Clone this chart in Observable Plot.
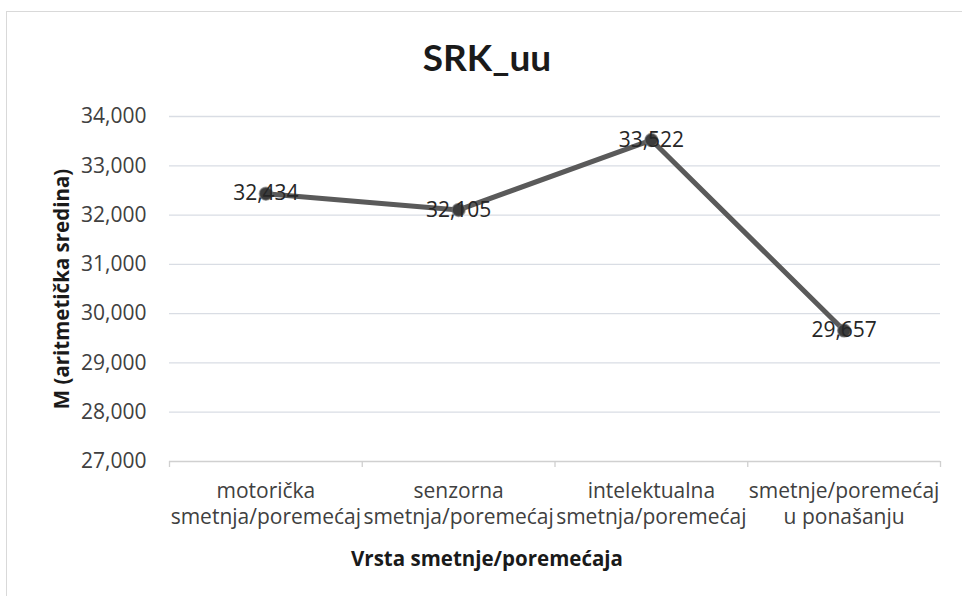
<!DOCTYPE html>
<html>
<head>
<meta charset="utf-8">
<script src="https://cdn.jsdelivr.net/npm/d3@7"></script>
<script src="https://cdn.jsdelivr.net/npm/@observablehq/plot@0.6"></script>
<style>
  html, body { margin: 0; padding: 0; background: #fff; }
  #wrap { position: relative; width: 962px; height: 596px; overflow: hidden; font-family: "Open Sans", Lato, sans-serif; }
  #frame { position: absolute; left: 6px; top: 11px; right: -10px; bottom: -10px; border: 1.5px solid #d9d9d9; }
  #title { position: absolute; left: 0; width: 974px; top: 34px; text-align: center; font-family: Lato, sans-serif; font-size: 37px; font-weight: bold; color: #1a1a1a; }
  #chart { position: absolute; left: 0; top: 100px; }
</style>
</head>
<body>
<div id="wrap">
  <div id="frame"></div>
  <div id="title">SRK_uu</div>
  <div id="chart"></div>
</div>
<script>
const categories = ["motorička\nsmetnja/poremećaj", "senzorna\nsmetnja/poremećaj", "intelektualna\nsmetnja/poremećaj", "smetnje/poremećaj\nu ponašanju"];
const means = [32.434, 32.105, 33.522, 29.657];
const yTicks = [27, 28, 29, 30, 31, 32, 33, 34];
const yLabel = "M (aritmetička sredina)";
const xLabel = "Vrsta smetnje/poremećaja";

const locale = d3.formatLocale({decimal: ",", thousands: ".", grouping: [3], currency: ["", ""]});
const fmt = locale.format(".3f");

const data = categories.map((c, i) => ({i, c, v: means[i]}));
const boundaries = d3.range(categories.length + 1).map(k => k - 0.5);
const FONT = "'Open Sans', Lato, sans-serif";

const plot = Plot.plot({
  width: 962,
  height: 496,
  marginTop: 16,
  marginBottom: 135,
  marginLeft: 169,
  marginRight: 22,
  style: {fontFamily: FONT, fontSize: "20px", color: "#404040", background: "transparent"},
  x: {type: "linear", domain: [-0.5, categories.length - 0.5]},
  y: {domain: [27, 34]},
  marks: [
    Plot.gridY(yTicks.slice(1), {stroke: "#d9dde4", strokeOpacity: 1, strokeWidth: 1.3}),
    Plot.ruleY([27], {stroke: "#d0d0d0", strokeWidth: 1.3}),
    Plot.axisY({ticks: yTicks, tickFormat: fmt, tickSize: 0, tickPadding: 23, fontSize: 21, fill: "#404040", label: null}),
    Plot.axisX({ticks: boundaries, tickFormat: () => "", tickSize: 6, stroke: "#d0d0d0", strokeWidth: 1.3, label: null}),
    Plot.axisX({ticks: d3.range(categories.length), tickFormat: i => categories[i], tickSize: 0, tickPadding: 18, lineHeight: 1.24, fontSize: 21, fill: "#404040", label: null}),
    Plot.line(data, {x: "i", y: "v", stroke: "#5a5a5a", strokeWidth: 5}),
    Plot.dot(data, {x: "i", y: "v", r: 6.5, fill: "#3c3c3c", stroke: "#777", strokeOpacity: 0.6, strokeWidth: 1.5}),
    Plot.text(data, {x: "i", y: "v", text: d => fmt(d.v), fontSize: 21, fill: "#262626"}),
    Plot.text([yLabel], {frameAnchor: "left", dx: -107, rotate: -90, fontSize: 20.5, fontWeight: "bold", fill: "#1a1a1a", textAnchor: "middle"}),
    Plot.text([xLabel], {frameAnchor: "bottom", dx: -68, dy: 104, fontSize: 20.5, fontWeight: "bold", fill: "#1a1a1a"})
  ]
});
document.getElementById("chart").appendChild(plot);
</script>
</body>
</html>
